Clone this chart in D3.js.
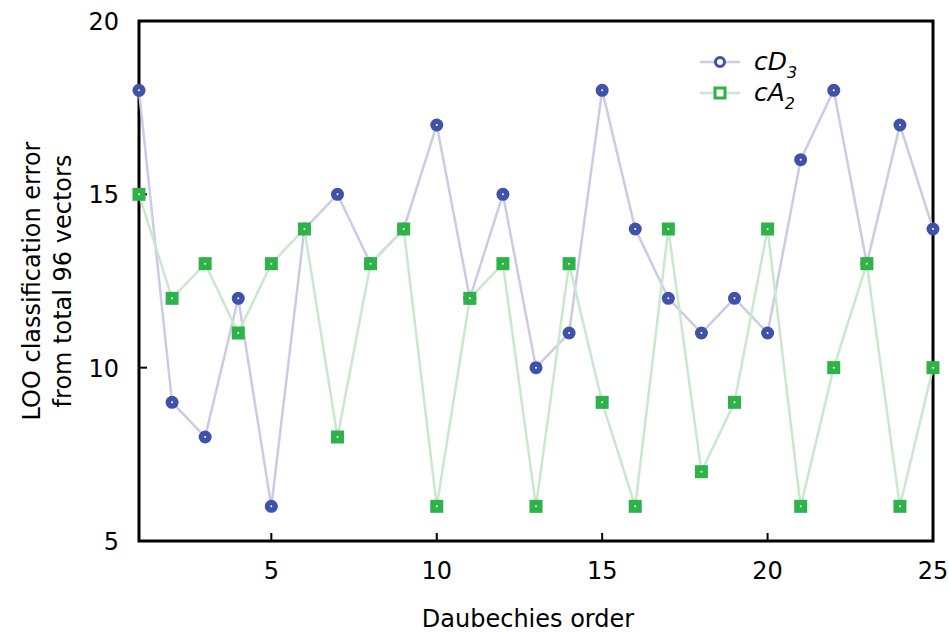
<!DOCTYPE html>
<html>
<head>
<meta charset="utf-8">
<script src="https://cdn.jsdelivr.net/npm/d3@7"></script>
<style>
  body { margin: 0; background: #fff; }
  text { font-family: "DejaVu Sans", sans-serif; }
</style>
</head>
<body>
<div id="chart"></div>
<script>
// Werte
const orders = d3.range(1, 26);
const cD3 = [18, 9, 8, 12, 6, 14, 15, 13, 14, 17, 12, 15, 10, 11, 18, 14, 12, 11, 12, 11, 16, 18, 13, 17, 14];
const cA2 = [15, 12, 13, 11, 13, 14, 8, 13, 14, 6, 12, 13, 6, 13, 9, 6, 14, 7, 9, 14, 6, 10, 13, 6, 10];
const xTicks = [5, 10, 15, 20, 25];
const yTicks = [5, 10, 15, 20];

const width = 949, height = 633;
const margin = { left: 139, right: 16, top: 21, bottom: 92 };

const blue = "#3f51a8", blueLine = "#cbcbe6";
const green = "#2db34a", greenLine = "#c9e8cc";

const svg = d3.select("#chart").append("svg")
  .attr("width", width).attr("height", height);

const x = d3.scaleLinear().domain([1, 25]).range([margin.left, width - margin.right]);
const y = d3.scaleLinear().domain([5, 20]).range([height - margin.bottom, margin.top]);

// Ticks nach innen
const tickLen = 8;
svg.append("g")
  .selectAll("line").data(xTicks).join("line")
  .attr("x1", d => x(d)).attr("x2", d => x(d))
  .attr("y1", y(5)).attr("y2", y(5) - tickLen)
  .attr("stroke", "#000").attr("stroke-width", 2);
svg.append("g")
  .selectAll("line").data(yTicks).join("line")
  .attr("x1", x(1)).attr("x2", x(1) + tickLen)
  .attr("y1", d => y(d)).attr("y2", d => y(d))
  .attr("stroke", "#000").attr("stroke-width", 2);

// Tick-Beschriftungen
svg.append("g")
  .selectAll("text").data(xTicks).join("text")
  .attr("x", d => x(d)).attr("y", y(5) + 38)
  .attr("text-anchor", "middle")
  .attr("font-size", 24)
  .text(d => d);
svg.append("g")
  .selectAll("text").data(yTicks).join("text")
  .attr("x", x(1) - 20).attr("y", d => y(d) + 9)
  .attr("text-anchor", "end")
  .attr("font-size", 24)
  .text(d => d);

// Rahmen
svg.append("rect")
  .attr("x", x(1)).attr("y", y(20))
  .attr("width", x(25) - x(1)).attr("height", y(5) - y(20))
  .attr("fill", "none").attr("stroke", "#000").attr("stroke-width", 3);

// Achsentitel
svg.append("text")
  .attr("x", (x(1) + x(25)) / 2 - 8).attr("y", 627)
  .attr("text-anchor", "middle").attr("font-size", 24)
  .text("Daubechies order");
const yl = svg.append("text")
  .attr("transform", `translate(0, ${(y(5) + y(20)) / 2}) rotate(-90)`)
  .attr("text-anchor", "middle").attr("font-size", 24);
yl.append("tspan").attr("x", 0).attr("y", 40).text("LOO classification error");
yl.append("tspan").attr("x", 0).attr("y", 71).text("from total 96 vectors");

const line = d3.line().x((d, i) => x(orders[i])).y(d => y(d));

function drawSeries(values, lineColor, markColor, shape) {
  svg.append("path").datum(values)
    .attr("d", line)
    .attr("fill", "none").attr("stroke", lineColor).attr("stroke-width", 2.5);
  const g = svg.append("g");
  values.forEach((v, i) => {
    const cx = x(orders[i]), cy = y(v);
    if (shape === "circle") {
      g.append("circle").attr("cx", cx).attr("cy", cy).attr("r", 6.5).attr("fill", markColor);
    } else {
      g.append("rect").attr("x", cx - 6.5).attr("y", cy - 6.5)
        .attr("width", 13).attr("height", 13).attr("fill", markColor);
    }
    g.append("circle").attr("cx", cx).attr("cy", cy).attr("r", 1).attr("fill", "#fff");
  });
}

drawSeries(cD3, blueLine, blue, "circle");
drawSeries(cA2, greenLine, green, "square");

// Legende
const legend = [
  { name: "cD", sub: "3", lc: blueLine, mc: blue, shape: "circle" },
  { name: "cA", sub: "2", lc: greenLine, mc: green, shape: "square" }
];
legend.forEach((d, i) => {
  const ly = 62 + i * 31;
  svg.append("line").attr("x1", 700).attr("x2", 740).attr("y1", ly).attr("y2", ly)
    .attr("stroke", d.lc).attr("stroke-width", 2.5);
  if (d.shape === "circle") {
    svg.append("circle").attr("cx", 720).attr("cy", ly).attr("r", 4.5)
      .attr("fill", "#fff").attr("stroke", d.mc).attr("stroke-width", 3);
  } else {
    svg.append("rect").attr("x", 715).attr("y", ly - 5).attr("width", 10).attr("height", 10)
      .attr("fill", "#fff").attr("stroke", d.mc).attr("stroke-width", 3);
  }
  const t = svg.append("text").attr("x", 754).attr("y", ly + 8)
    .attr("font-size", 25).attr("font-style", "italic");
  t.append("tspan").text(d.name);
  t.append("tspan").attr("dy", 8).attr("font-size", 16).text(d.sub);
});
</script>
</body>
</html>
